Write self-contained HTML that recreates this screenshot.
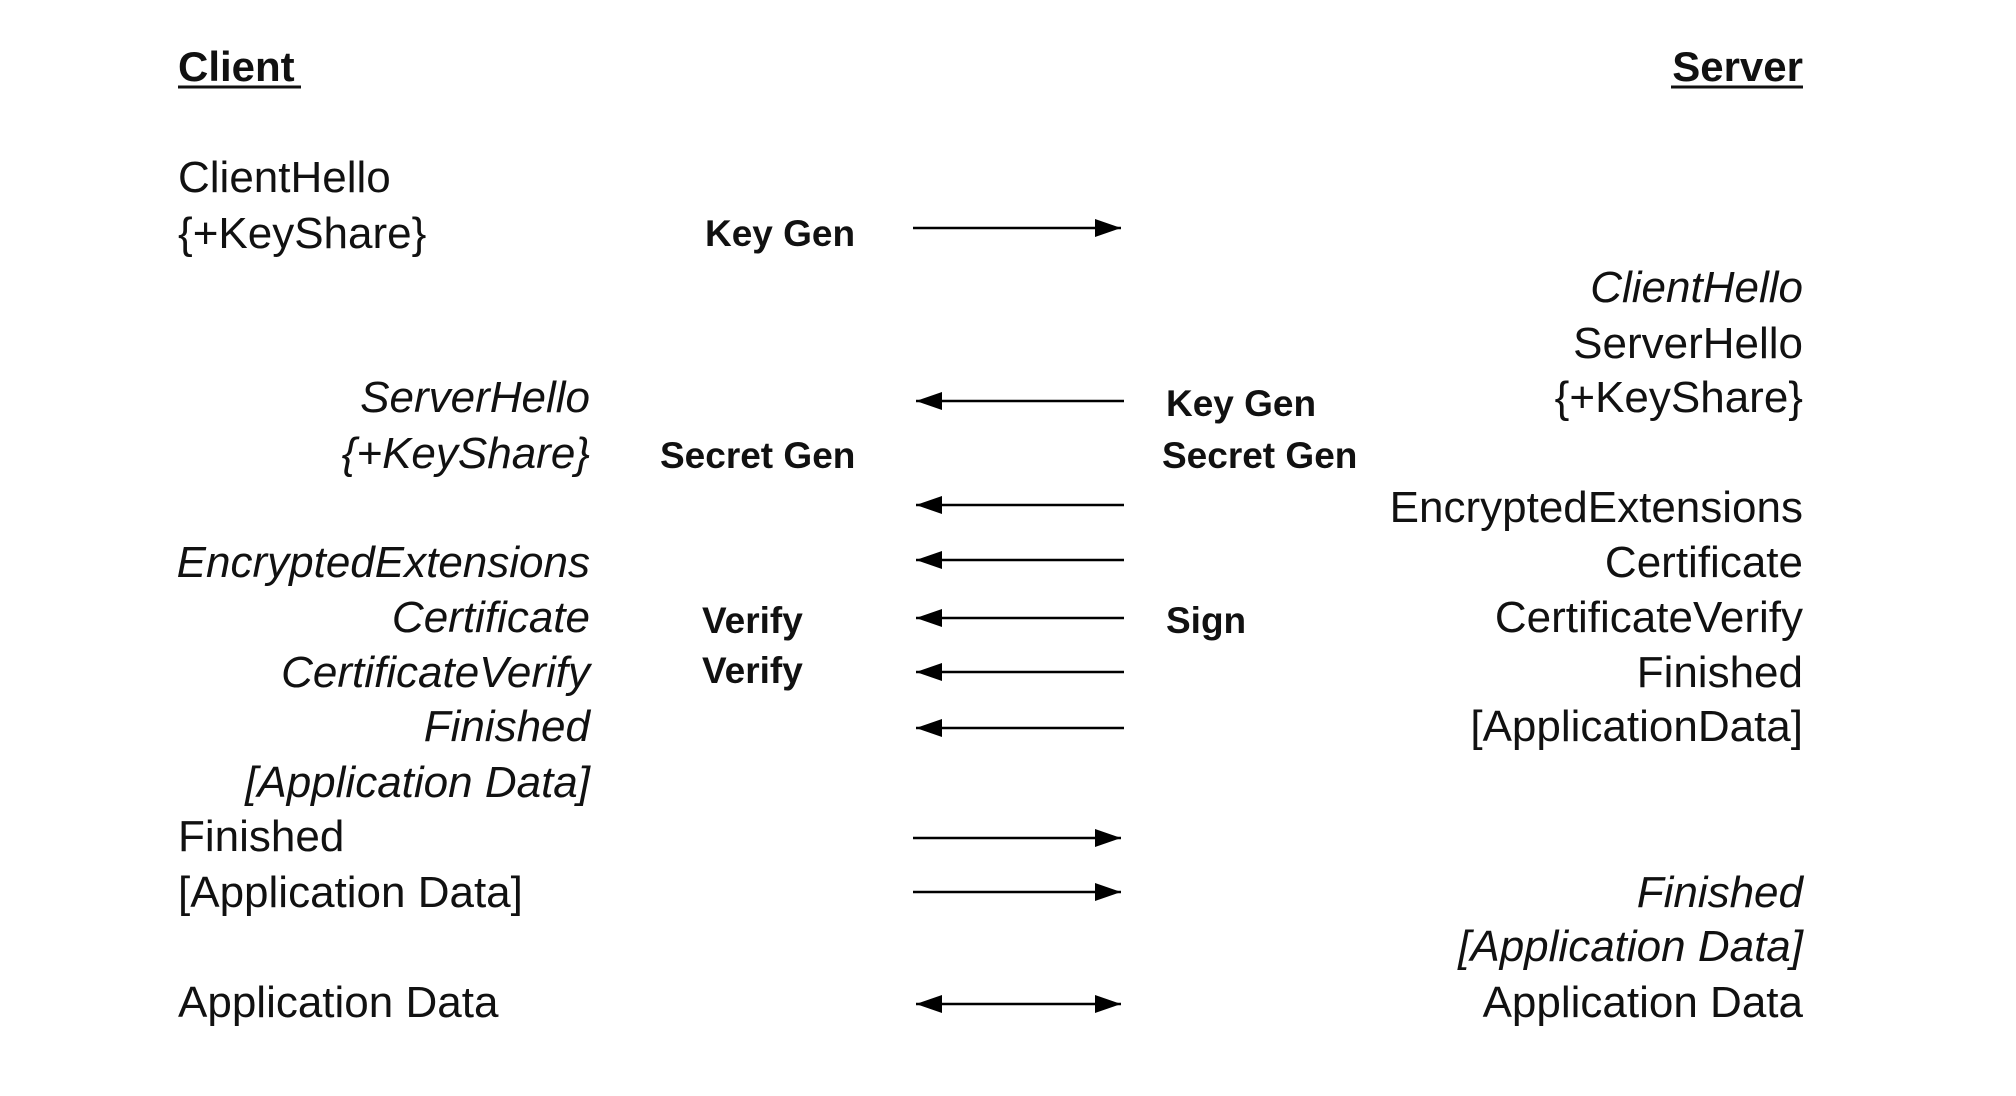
<!DOCTYPE html>
<html><head><meta charset="utf-8"><style>
html,body{margin:0;padding:0;background:#fff;}
svg{display:block;}
text{font-family:"Liberation Sans",Arial,sans-serif;fill:#111;}
.r{font-size:44px;}
.i{font-size:44px;font-style:italic;}
.b{font-size:37px;font-weight:bold;}
.h{font-size:42px;font-weight:bold;}
</style></head><body>
<svg width="2016" height="1096" viewBox="0 0 2016 1096" xmlns="http://www.w3.org/2000/svg">
<defs>
<marker id="a" markerWidth="26" markerHeight="18" refX="26" refY="9" orient="auto" markerUnits="userSpaceOnUse">
<path d="M0,0 L26,9 L0,18 Z" fill="#000"/></marker>
<marker id="s" markerWidth="26" markerHeight="18" refX="0" refY="9" orient="auto" markerUnits="userSpaceOnUse">
<path d="M26,0 L0,9 L26,18 Z" fill="#000"/></marker>
</defs>
<g transform="translate(0,-1)">
<text class="h" x="178" y="82">Client</text>
<line x1="178" y1="88" x2="301" y2="88" stroke="#111" stroke-width="3"/>
<text class="h" x="1803" y="82" text-anchor="end">Server</text>
<line x1="1671" y1="88" x2="1803" y2="88" stroke="#111" stroke-width="3"/>

<text class="r" x="178" y="193">ClientHello</text>
<text class="r" x="178" y="249">{+KeyShare}</text>
<text class="r" x="178" y="852">Finished</text>
<text class="r" x="178" y="908">[Application Data]</text>
<text class="r" x="178" y="1018">Application Data</text>

<text class="i" x="590" y="413" text-anchor="end">ServerHello</text>
<text class="i" x="590" y="469" text-anchor="end">{+KeyShare}</text>
<text class="i" x="590" y="578" text-anchor="end">EncryptedExtensions</text>
<text class="i" x="590" y="633" text-anchor="end">Certificate</text>
<text class="i" x="590" y="688" text-anchor="end">CertificateVerify</text>
<text class="i" x="590" y="742" text-anchor="end">Finished</text>
<text class="i" x="590" y="798" text-anchor="end">[Application Data]</text>

<text class="i" x="1803" y="303" text-anchor="end">ClientHello</text>
<text class="r" x="1803" y="359" text-anchor="end">ServerHello</text>
<text class="r" x="1803" y="413" text-anchor="end">{+KeyShare}</text>
<text class="r" x="1803" y="523" text-anchor="end">EncryptedExtensions</text>
<text class="r" x="1803" y="578" text-anchor="end">Certificate</text>
<text class="r" x="1803" y="633" text-anchor="end">CertificateVerify</text>
<text class="r" x="1803" y="688" text-anchor="end">Finished</text>
<text class="r" x="1803" y="742" text-anchor="end">[ApplicationData]</text>
<text class="i" x="1803" y="908" text-anchor="end">Finished</text>
<text class="i" x="1803" y="962" text-anchor="end">[Application Data]</text>
<text class="r" x="1803" y="1018" text-anchor="end">Application Data</text>

<text class="b" x="705" y="247">Key Gen</text>
<text class="b" x="660" y="469">Secret Gen</text>
<text class="b" x="702" y="634">Verify</text>
<text class="b" x="702" y="684">Verify</text>
<text class="b" x="1166" y="417">Key Gen</text>
<text class="b" x="1162" y="469">Secret Gen</text>
<text class="b" x="1166" y="634">Sign</text>
</g>
<g stroke="#000" stroke-width="2.6">
<line x1="913" y1="228" x2="1121" y2="228" marker-end="url(#a)"/>
<line x1="916" y1="401" x2="1124" y2="401" marker-start="url(#s)"/>
<line x1="916" y1="505" x2="1124" y2="505" marker-start="url(#s)"/>
<line x1="916" y1="560" x2="1124" y2="560" marker-start="url(#s)"/>
<line x1="916" y1="618" x2="1124" y2="618" marker-start="url(#s)"/>
<line x1="916" y1="672" x2="1124" y2="672" marker-start="url(#s)"/>
<line x1="916" y1="728" x2="1124" y2="728" marker-start="url(#s)"/>
<line x1="913" y1="838" x2="1121" y2="838" marker-end="url(#a)"/>
<line x1="913" y1="892" x2="1121" y2="892" marker-end="url(#a)"/>
<line x1="916" y1="1004" x2="1121" y2="1004" marker-start="url(#s)" marker-end="url(#a)"/>
</g>
</svg>
</body></html>
